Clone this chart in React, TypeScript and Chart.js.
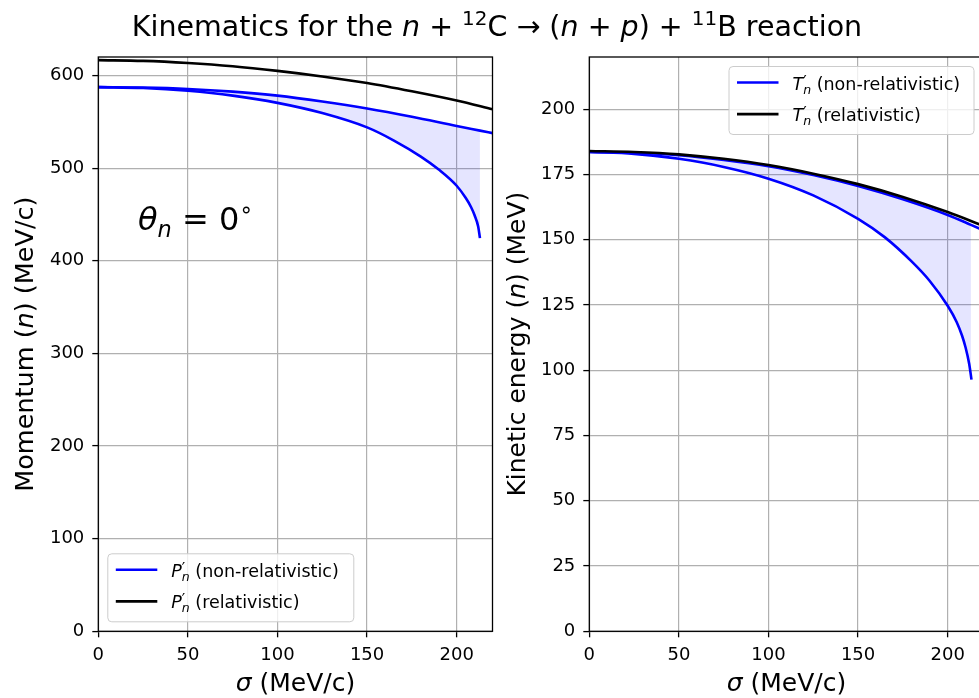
import React, { useEffect, useRef } from "react";
import { Chart, registerables } from "chart.js";

Chart.register(...registerables);

// ---------------- data ----------------
// Left panel: neutron momentum P'_n (MeV/c) vs sigma (MeV/c)
const pRelSigma = [0, 25, 50, 75, 100, 125, 150, 175, 200, 220];
const pRelValues = [616.6, 615.8, 613.5, 610, 605, 599, 592, 583, 573, 563.5];

const pNrUpperSigma = [0, 25, 50, 75, 100, 125, 150, 175, 200, 213, 220];
const pNrUpperValues = [587.5, 587, 585.5, 582.6, 578.3, 572, 564.5, 555.5, 545.5, 540.5, 537.8];

const pNrLowerSigma = [0, 25, 50, 75, 100, 125, 150, 165, 180, 190, 200, 205, 208, 210, 212, 213];
const pNrLowerValues = [587.5, 586.5, 583.5, 578.3, 570.5, 559.5, 544, 529.8, 512.5, 498.5, 481, 468, 458.1, 449.1, 437.1, 424.5];

// Right panel: neutron kinetic energy T'_n (MeV) vs sigma (MeV/c)
const tRelSigma = [0, 25, 50, 75, 100, 125, 150, 175, 200, 220];
const tRelValues = [184, 183.6, 182.7, 181.0, 178.6, 175.3, 171.3, 166.4, 160.6, 155.3];

const tNrUpperSigma = [0, 25, 50, 75, 100, 125, 150, 175, 200, 213, 220];
const tNrUpperValues = [183.6, 183.3, 182.4, 180.6, 178.2, 174.8, 170.6, 165.5, 159.5, 155.7, 153.6];

const tNrLowerSigma = [0, 25, 50, 75, 100, 125, 150, 165, 180, 190, 200, 205, 208, 210, 212, 213.3];
const tNrLowerValues = [183.6, 182.9, 181.0, 177.9, 173.4, 167.0, 158.0, 150.9, 141.6, 134.2, 124.7, 118.5, 113.3, 108.7, 102.5, 96.4];

// Axis ranges and ticks
const sigmaMin = 0;
const sigmaMax = 220;
const sigmaTicks = [0, 50, 100, 150, 200];
const pMax = 620;
const pTicks = [0, 100, 200, 300, 400, 500, 600];
const tMax = 220;
const tTicks = [0, 25, 50, 75, 100, 125, 150, 175, 200];

// ---------------- helpers ----------------
const FAMILY = '"DejaVu Sans"';
const BLUE = "#0000ff";
const BLACK = "#000000";
const FILL = "rgba(0, 0, 255, 0.1)";
const GRID = "#b0b0b0";

type Seg = { t: string; size: number; italic?: boolean; dy?: number; noAdvance?: boolean };

function segFont(s: Seg) {
  return `${s.italic ? "italic " : ""}${s.size}px ${FAMILY}`;
}

function segsWidth(ctx: CanvasRenderingContext2D, segs: Seg[]) {
  let w = 0;
  for (const s of segs) {
    ctx.font = segFont(s);
    if (!s.noAdvance) w += ctx.measureText(s.t).width;
  }
  return w;
}

function drawSegs(ctx: CanvasRenderingContext2D, segs: Seg[], x: number, y: number, align: "left" | "center") {
  const w = segsWidth(ctx, segs);
  let cx = align === "center" ? x - w / 2 : x;
  ctx.textAlign = "left";
  ctx.textBaseline = "alphabetic";
  for (const s of segs) {
    ctx.font = segFont(s);
    ctx.fillText(s.t, cx, y + (s.dy || 0));
    if (!s.noAdvance) cx += ctx.measureText(s.t).width;
  }
}

const pts = (xs: number[], ys: number[]) => xs.map((x, i) => ({ x, y: ys[i] }));

type LegendItem = { color: string; segs: Seg[] };
type Decor = {
  xLabel: Seg[];
  yLabel: Seg[];
  xLabelDy: number;
  yLabelDx: number;
  note?: { segs: Seg[]; dx: number; dy: number };
  legend: { items: LegendItem[]; corner: "lowerleft" | "upperright"; w: number; h: number };
};

function legendLabel(sym: string, rest: string): Seg[] {
  return [
    { t: sym, size: 17.5, italic: true },
    { t: "′", size: 15, dy: -3, noAdvance: true },
    { t: "n", size: 12.5, italic: true, dy: 4 },
    { t: " " + rest, size: 17.5 },
  ];
}

function decorPlugin(d: Decor) {
  return {
    id: "decor",
    afterDraw(chart: any) {
      const ctx: CanvasRenderingContext2D = chart.ctx;
      const a = chart.chartArea;
      ctx.save();
      ctx.strokeStyle = BLACK;
      ctx.lineWidth = 1.3;
      ctx.strokeRect(a.left, a.top, a.right - a.left, a.bottom - a.top);
      ctx.fillStyle = BLACK;
      drawSegs(ctx, d.xLabel, (a.left + a.right) / 2, a.bottom + d.xLabelDy, "center");
      ctx.save();
      ctx.translate(a.left - d.yLabelDx, (a.top + a.bottom) / 2);
      ctx.rotate(-Math.PI / 2);
      drawSegs(ctx, d.yLabel, 0, 0, "center");
      ctx.restore();
      if (d.note) {
        ctx.fillStyle = BLACK;
        drawSegs(ctx, d.note.segs, a.left + d.note.dx, a.top + d.note.dy, "left");
      }
      const L = d.legend;
      const pad = 9.5;
      const bx = L.corner === "lowerleft" ? a.left + pad : a.right - pad - L.w;
      const by = L.corner === "lowerleft" ? a.bottom - pad - L.h : a.top + pad;
      ctx.beginPath();
      (ctx as any).roundRect(bx, by, L.w, L.h, 4);
      ctx.fillStyle = "rgba(255,255,255,0.8)";
      ctx.fill();
      ctx.strokeStyle = "#cccccc";
      ctx.lineWidth = 1;
      ctx.stroke();
      L.items.forEach((it, i) => {
        const ly = by + 16 + i * 31.6;
        ctx.beginPath();
        ctx.moveTo(bx + 8, ly);
        ctx.lineTo(bx + 49.5, ly);
        ctx.strokeStyle = it.color;
        ctx.lineWidth = 2.6;
        ctx.stroke();
        ctx.fillStyle = BLACK;
        drawSegs(ctx, it.segs, bx + 63.5, ly + 7, "left");
      });
      ctx.restore();
    },
  };
}

function makeConfig(opts: {
  rel: { x: number; y: number }[];
  upper: { x: number; y: number }[];
  lower: { x: number; y: number }[];
  yMax: number;
  yTicks: number[];
  yAxisWidth: number;
  padRight: number;
  decor: Decor;
}) {
  const lowerEnd = opts.lower[opts.lower.length - 1].x;
  const upperTrim = opts.upper.filter((p) => p.x <= lowerEnd);
  const line = (data: any[], color: string, order: number) => ({
    data,
    borderColor: color,
    backgroundColor: color,
    borderWidth: 2.6,
    pointRadius: 0,
    fill: false,
    cubicInterpolationMode: "monotone" as const,
    order,
  });
  const tickFont = { family: "DejaVu Sans", size: 18 };
  const grid = { color: GRID, lineWidth: 1.2, tickColor: BLACK, tickLength: 6, tickWidth: 1.3 };
  return {
    type: "line" as const,
    data: {
      datasets: [
        line(opts.rel, BLACK, 0),
        line(opts.upper, BLUE, 1),
        line(opts.lower, BLUE, 2),
        {
          data: upperTrim,
          borderWidth: 0,
          borderColor: "rgba(0,0,0,0)",
          backgroundColor: FILL,
          pointRadius: 0,
          fill: { target: 2 },
          cubicInterpolationMode: "monotone" as const,
          order: 5,
        },
      ],
    },
    options: {
      responsive: false,
      animation: false as const,
      devicePixelRatio: 1,
      events: [],
      layout: { padding: { left: 0, right: opts.padRight, top: 57, bottom: 0 } },
      plugins: {
        legend: { display: false },
        tooltip: { enabled: false },
        title: { display: false },
        filler: { drawTime: "beforeDatasetsDraw" as const },
      },
      scales: {
        x: {
          type: "linear" as const,
          min: sigmaMin,
          max: sigmaMax,
          afterBuildTicks: (s: any) => {
            s.ticks = sigmaTicks.map((v) => ({ value: v }));
          },
          afterFit: (s: any) => {
            s.height = 66.7;
          },
          ticks: { font: tickFont, color: BLACK, padding: 7, maxRotation: 0 },
          grid,
          border: { display: false },
        },
        y: {
          type: "linear" as const,
          min: 0,
          max: opts.yMax,
          afterBuildTicks: (s: any) => {
            s.ticks = opts.yTicks.map((v) => ({ value: v }));
          },
          afterFit: (s: any) => {
            s.width = opts.yAxisWidth;
          },
          ticks: { font: tickFont, color: BLACK, padding: 8 },
          grid,
          border: { display: false },
        },
      },
    },
    plugins: [decorPlugin(opts.decor)],
  };
}

function ChartCanvas({ left, width, build }: { left: number; width: number; build: () => any }) {
  const ref = useRef<HTMLCanvasElement>(null);
  useEffect(() => {
    const chart = new Chart(ref.current as HTMLCanvasElement, build());
    return () => chart.destroy();
  }, []);
  return (
    <canvas
      ref={ref}
      width={width}
      height={698}
      style={{ position: "absolute", left, top: 0, width, height: 698, display: "block" }}
    />
  );
}

const leftConfig = () =>
  makeConfig({
    rel: pts(pRelSigma, pRelValues),
    upper: pts(pNrUpperSigma, pNrUpperValues),
    lower: pts(pNrLowerSigma, pNrLowerValues),
    yMax: pMax,
    yTicks: pTicks,
    yAxisWidth: 98.3,
    padRight: 500 - 492.5,
    decor: {
      xLabel: [{ t: "σ", size: 25, italic: true }, { t: " (MeV/c)", size: 25 }],
      yLabel: [
        { t: "Momentum (", size: 25.5 },
        { t: "n", size: 25.5, italic: true },
        { t: ") (MeV/c)", size: 25.5 },
      ],
      xLabelDy: 60,
      yLabelDx: 65,
      note: {
        segs: [
          { t: "θ", size: 32, italic: true },
          { t: "n", size: 22.4, italic: true, dy: 7 },
          { t: " = 0", size: 32 },
          { t: "∘", size: 22.4, dy: -13 },
        ],
        dx: 39.7,
        dy: 173,
      },
      legend: {
        corner: "lowerleft",
        w: 246,
        h: 68,
        items: [
          { color: BLUE, segs: legendLabel("P", "(non-relativistic)") },
          { color: BLACK, segs: legendLabel("P", "(relativistic)") },
        ],
      },
    },
  });

const rightConfig = () =>
  makeConfig({
    rel: pts(tRelSigma, tRelValues),
    upper: pts(tNrUpperSigma, tNrUpperValues),
    lower: pts(tNrLowerSigma, tNrLowerValues),
    yMax: tMax,
    yTicks: tTicks,
    yAxisWidth: 94.3,
    padRight: 495 - 488.5,
    decor: {
      xLabel: [{ t: "σ", size: 25, italic: true }, { t: " (MeV/c)", size: 25 }],
      yLabel: [
        { t: "Kinetic energy (", size: 25 },
        { t: "n", size: 25, italic: true },
        { t: ") (MeV)", size: 25 },
      ],
      xLabelDy: 60,
      yLabelDx: 64,
      legend: {
        corner: "upperright",
        w: 245,
        h: 68,
        items: [
          { color: BLUE, segs: legendLabel("T", "(non-relativistic)") },
          { color: BLACK, segs: legendLabel("T", "(relativistic)") },
        ],
      },
    },
  });

function Title() {
  const it: React.CSSProperties = { fontStyle: "italic" };
  const sup: React.CSSProperties = { fontSize: "0.7em", verticalAlign: "0.55em", lineHeight: 0 };
  return (
    <div
      style={{
        position: "absolute",
        left: 0,
        top: 13,
        width: 994,
        textAlign: "center",
        fontFamily: FAMILY,
        fontSize: 28.5,
        lineHeight: "28.5px",
        color: "#000",
        whiteSpace: "nowrap",
      }}
    >
      Kinematics for the <span style={it}>n</span> + <span style={sup}>12</span>C → (<span style={it}>n</span> +{" "}
      <span style={it}>p</span>) + <span style={sup}>11</span>B reaction
    </div>
  );
}

export default function App() {
  return (
    <div
      style={{
        position: "fixed",
        left: 0,
        top: 0,
        width: 979,
        height: 698,
        overflow: "hidden",
        background: "#ffffff",
      }}
    >
      <ChartCanvas left={0} width={500} build={leftConfig} />
      <ChartCanvas left={495} width={495} build={rightConfig} />
      <Title />
    </div>
  );
}
